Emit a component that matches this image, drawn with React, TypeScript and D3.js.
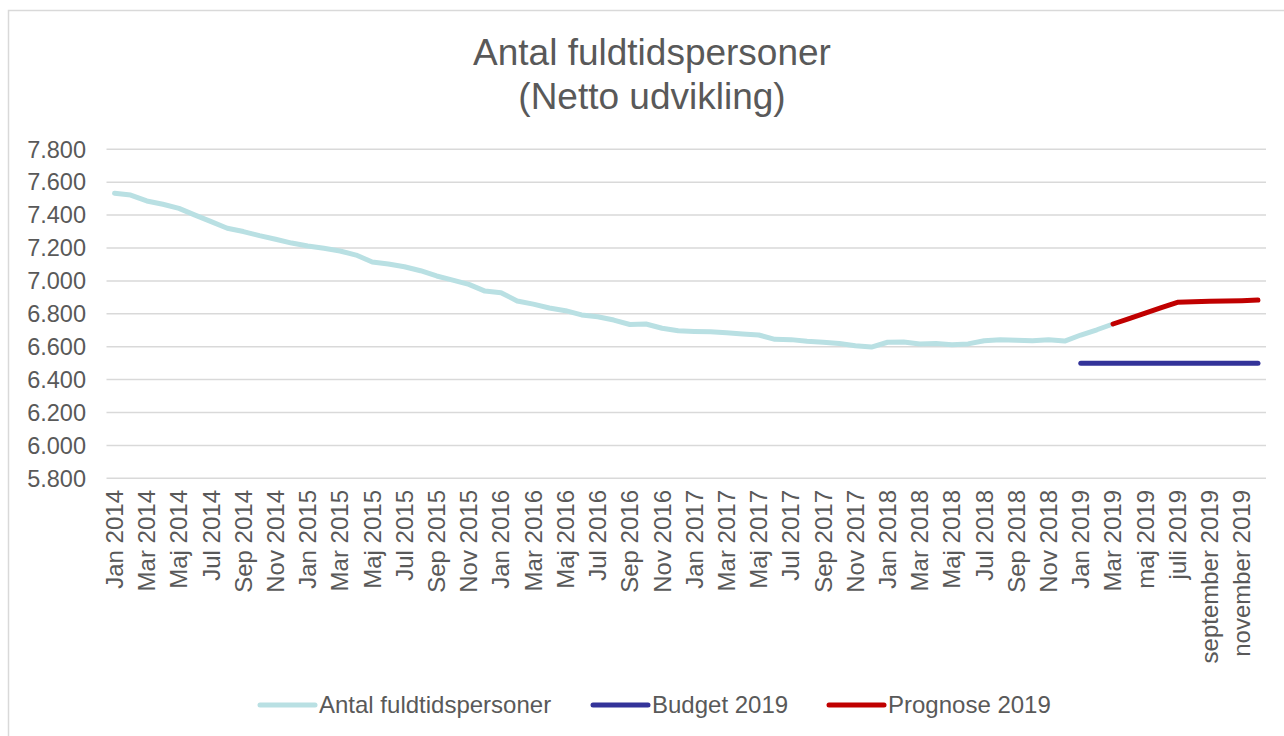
// Line chart: antal fuldtidspersoner per month 2014-2019, with budget and forecast for 2019

import React, { useEffect, useRef } from "react"
import * as d3 from "d3"

const years = [2014, 2015, 2016, 2017, 2018]
const monthNames = ["Jan", "Feb", "Mar", "Apr", "Maj", "Jun", "Jul", "Aug", "Sep", "Okt", "Nov", "Dec"]
const months2019 = ["Jan 2019", "Feb 2019", "Mar 2019", "april 2019", "maj 2019", "juni 2019", "juli 2019", "august 2019", "september 2019", "oktober 2019", "november 2019", "december 2019"]

const categories = [
  ...years.flatMap(y => monthNames.map(m => `${m} ${y}`)),
  ...months2019,
]

// Actual values, Jan 2014 - Mar 2019
const actual = [
  7533, 7522, 7486, 7466, 7441, 7400, 7360, 7320, 7300, 7275, 7253, 7230,
  7212, 7198, 7182, 7157, 7115, 7103, 7086, 7062, 7030, 7005, 6979, 6938,
  6928, 6878, 6859, 6835, 6819, 6793, 6782, 6762, 6735, 6738, 6712, 6697,
  6693, 6691, 6685, 6677, 6671, 6645, 6643, 6633, 6627, 6620, 6606, 6598,
  6627, 6629, 6617, 6620, 6612, 6617, 6636, 6642, 6639, 6636, 6642, 6634,
  6671, 6703, 6738,
]

// Budget 2019, Jan - Dec 2019
const budget = [6500, 6500, 6500, 6500, 6500, 6500, 6500, 6500, 6500, 6500, 6500, 6500]

// Prognose 2019, Mar - Dec 2019
const prognose = [6738, 6771, 6804, 6837, 6870, 6873, 6876, 6878, 6880, 6884]

const yTicks = [5800, 6000, 6200, 6400, 6600, 6800, 7000, 7200, 7400, 7600, 7800]

const seriesNames = ["Antal fuldtidspersoner", "Budget 2019", "Prognose 2019"]
const colors = ["#b9e0e3", "#333399", "#c00000"]

function App() {
  const ref = useRef(null)

  useEffect(() => {
    const width = 1284
    const height = 736
    const font = "'Liberation Sans', Arial, sans-serif"
    const textColor = "#595959"

    const svg = d3.select(ref.current)
    svg.selectAll("*").remove()
    svg.attr("width", width).attr("height", height)

    // place the series on the full category list
    const pad = (vals, total) => [
      ...Array(total - vals.length).fill(null),
      ...vals,
    ]
    const series = [
      categories.map((c, i) => (i < actual.length ? actual[i] : null)),
      pad(budget, categories.length),
      pad(prognose, categories.length),
    ]

    const x = d3.scaleBand().domain(categories).range([106.5, 1266]).paddingInner(0).paddingOuter(0)
    const y = d3.scaleLinear().domain([5800, 7800]).range([478.3, 149.3])
    const cx = d => x(d) + x.bandwidth() / 2

    const danish = d3.formatLocale({ decimal: ",", thousands: ".", grouping: [3], currency: ["", ""] })
    const fmt = danish.format(",d")

    // outer frame
    svg.append("rect")
      .attr("x", 8.5).attr("y", 10.5)
      .attr("width", 1300).attr("height", 800)
      .attr("fill", "white")
      .attr("stroke", "#d9d9d9")
      .attr("stroke-width", 1.5)

    // title
    const title = svg.append("text")
      .attr("text-anchor", "middle")
      .attr("font-family", font)
      .attr("font-size", 37)
      .attr("fill", textColor)
    title.append("tspan").attr("x", 652).attr("y", 65).text("Antal fuldtidspersoner")
    title.append("tspan").attr("x", 652).attr("y", 109).text("(Netto udvikling)")

    // gridlines
    svg.append("g").selectAll("line")
      .data(yTicks)
      .enter()
      .append("line")
      .attr("x1", 106.5).attr("x2", 1266)
      .attr("y1", d => y(d)).attr("y2", d => y(d))
      .attr("stroke", "#d9d9d9")
      .attr("stroke-width", 1.5)

    // y labels
    svg.append("g").selectAll("text")
      .data(yTicks)
      .enter()
      .append("text")
      .attr("x", 86)
      .attr("y", d => y(d))
      .attr("dy", "0.35em")
      .attr("text-anchor", "end")
      .attr("font-family", font)
      .attr("font-size", 23.5)
      .attr("fill", textColor)
      .text(d => fmt(d))

    // x labels, every second month
    svg.append("g").selectAll("text")
      .data(categories.filter((c, i) => i % 2 === 0))
      .enter()
      .append("text")
      .attr("transform", d => `translate(${cx(d)},490) rotate(-90)`)
      .attr("dy", "0.35em")
      .attr("text-anchor", "end")
      .attr("font-family", font)
      .attr("font-size", 24)
      .attr("fill", textColor)
      .text(d => d)

    // lines
    const line = d3.line()
      .defined(d => d[1] != null)
      .x(d => cx(d[0]))
      .y(d => y(d[1]))

    series.forEach((vals, s) => {
      svg.append("path")
        .datum(categories.map((c, i) => [c, vals[i]]))
        .attr("d", line)
        .attr("fill", "none")
        .attr("stroke", colors[s])
        .attr("stroke-width", 5)
        .attr("stroke-linejoin", "round")
        .attr("stroke-linecap", "round")
    })

    // legend
    const legendX = [260, 593, 829]
    const lg = svg.append("g").selectAll("g")
      .data(seriesNames)
      .enter()
      .append("g")
      .attr("transform", (d, i) => `translate(${legendX[i]},705)`)
    lg.append("line")
      .attr("x1", 0).attr("x2", 55)
      .attr("stroke", (d, i) => colors[i])
      .attr("stroke-width", 5)
      .attr("stroke-linecap", "round")
    lg.append("text")
      .attr("x", 59)
      .attr("dy", "0.35em")
      .attr("font-family", font)
      .attr("font-size", 24)
      .attr("fill", textColor)
      .text(d => d)
  }, [])

  return <svg ref={ref} style={{ position: "absolute", left: 0, top: 0 }}></svg>
}

export default App
